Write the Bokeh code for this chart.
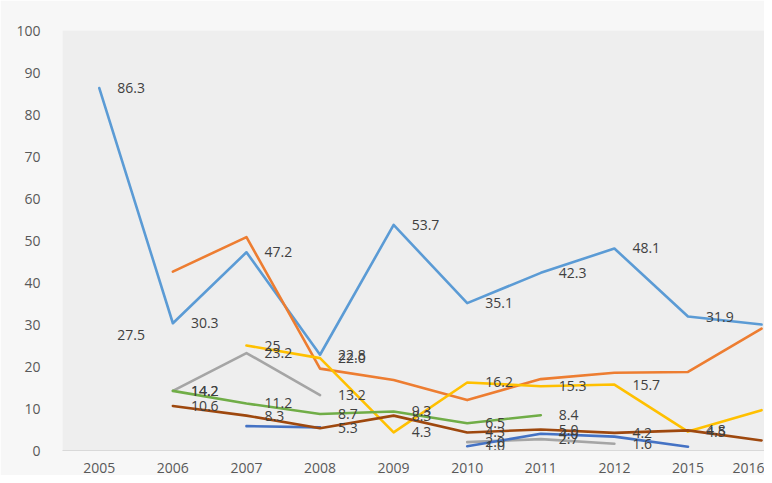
import numpy as np
from bokeh.plotting import figure
from bokeh.models import ColumnDataSource, FixedTicker, Range1d
from bokeh.embed import file_html
from bokeh.resources import INLINE
from bokeh.core.properties import value

N = None
years = ["2005", "2006", "2007", "2008", "2009", "2010", "2011", "2012", "2015", "2016"]
y_ticks = [0, 10, 20, 30, 40, 50, 60, 70, 80, 90, 100]

# series values (None = no data)
blue   = [86.3, 30.3, 47.2, 22.8, 53.7, 35.1, 42.3, 48.1, 31.9, 30.0]
orange = [N, 42.6, 50.8, 19.5, 16.8, 12.0, 17.0, 18.5, 18.7, 29.0]
gray   = [N, 14.2, 23.2, 13.2, N, 2.0, 2.7, 1.6, N, N]
gold   = [N, N, 25, 22.0, 4.3, 16.2, 15.3, 15.7, 4.5, 9.6]
navy   = [N, N, 5.8, 5.5, N, 1.0, 4.0, 3.3, 0.9, N]
green  = [N, 14.2, 11.2, 8.7, 9.3, 6.5, 8.4, N, N, N]
steel  = [27.5, N, N, N, N, N, N, N, N, N]
brown  = [N, 10.6, 8.3, 5.3, 8.3, 4.3, 5.0, 4.2, 4.8, 2.4]

# which points carry a data label (1 = shown)
blue_lab   = [1, 1, 1, 1, 1, 1, 1, 1, 1, 0]
orange_lab = [0, 0, 0, 0, 0, 0, 0, 0, 0, 0]
gray_lab   = [0, 1, 1, 1, 0, 1, 1, 1, 0, 0]
gold_lab   = [0, 0, 1, 1, 1, 1, 1, 1, 1, 0]
navy_lab   = [0, 0, 0, 0, 0, 1, 1, 0, 0, 0]
green_lab  = [0, 1, 1, 1, 1, 1, 1, 0, 0, 0]
steel_lab  = [1, 0, 0, 0, 0, 0, 0, 0, 0, 0]
brown_lab  = [0, 1, 1, 1, 1, 1, 1, 1, 1, 0]

series = [
    (blue, blue_lab, "#5B9BD5"),
    (orange, orange_lab, "#ED7D31"),
    (gray, gray_lab, "#A5A5A5"),
    (gold, gold_lab, "#FFC000"),
    (navy, navy_lab, "#4472C4"),
    (green, green_lab, "#70AD47"),
    (steel, steel_lab, "#255E91"),
    (brown, brown_lab, "#9E480E"),
]

FONT = "Open Sans"

p = figure(width=764, height=475, output_backend="svg", toolbar_location=None,
           x_range=Range1d(-0.5, 9.04), y_range=Range1d(0, 100),
           min_border_left=62, min_border_right=0, min_border_top=30, min_border_bottom=24)

p.background_fill_color = "#eeeeee"
p.border_fill_color = "#f7f7f7"
p.outline_line_color = None
p.xgrid.visible = False
p.ygrid.visible = False

def fmt(v):
    return str(v) if isinstance(v, int) else f"{v:.1f}"

xs = np.arange(len(years), dtype=float)
lx, ly, lt = [], [], []
for vals, labs, col in series:
    arr = np.array([np.nan if v is None else v for v in vals], dtype=float)
    p.line(xs, arr, line_color=col, line_width=2.6, line_join="round", line_cap="round")
    for i, v in enumerate(vals):
        if v is not None and labs[i]:
            lx.append(xs[i]); ly.append(float(v)); lt.append(fmt(v))

src = ColumnDataSource(dict(x=lx, y=ly, t=lt))
p.text(x="x", y="y", text="t", source=src, x_offset=18, text_align="left",
       text_baseline="middle", text_font=value(FONT), text_font_size="14px",
       text_color="#404040")

p.yaxis.ticker = FixedTicker(ticks=y_ticks)
p.yaxis.axis_line_color = None
p.yaxis.major_tick_line_color = None
p.yaxis.minor_tick_line_color = None
p.yaxis.major_label_standoff = 16
p.yaxis.major_label_text_font = FONT
p.yaxis.major_label_text_font_size = "14px"
p.yaxis.major_label_text_color = "#595959"

p.xaxis.ticker = FixedTicker(ticks=list(range(len(years))))
p.xaxis.major_label_overrides = {i: y for i, y in enumerate(years)}
p.xaxis.axis_line_color = "#d9d9d9"
p.xaxis.axis_line_width = 1
p.xaxis.major_tick_line_color = None
p.xaxis.minor_tick_line_color = None
p.xaxis.major_label_standoff = 6
p.xaxis.major_label_text_font = FONT
p.xaxis.major_label_text_font_size = "14px"
p.xaxis.major_label_text_color = "#595959"

open("out.html", "w").write(file_html(p, INLINE))
